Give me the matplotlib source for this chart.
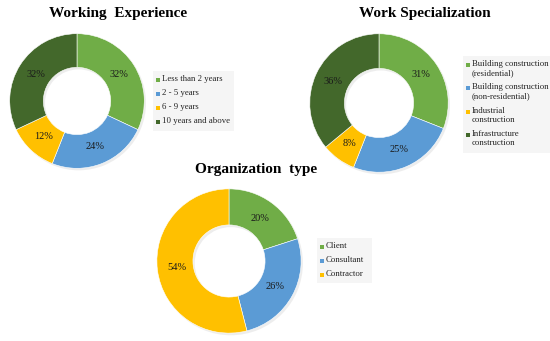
import matplotlib
matplotlib.use("Agg")
import matplotlib.pyplot as plt
from matplotlib.patches import Rectangle

plt.rcParams["font.family"] = ["Liberation Serif", "DejaVu Serif"]

# Data
colors = ["#70AD47", "#5B9BD5", "#FFC000", "#43682B"]

exp_labels = ["Less than 2 years", "2 - 5 years", "6 - 9 years", "10 years and above"]
exp_values = [32, 24, 12, 32]

spec_labels = ["Building construction\n(residential)", "Building construction\n(non-residential)",
               "Industrial\nconstruction", "Infrastructure\nconstruction"]
spec_values = [31, 25, 8, 36]

org_labels = ["Client", "Consultant", "Contractor"]
org_values = [20, 26, 54]

W, H = 550, 341
fig = plt.figure(figsize=(W / 100, H / 100), dpi=100)
fig.patch.set_facecolor("white")


def fx(x):
    return x / W


def fy(y):
    return 1 - y / H


def legend_box(labels, cols, box, mx, tx, y0, pitch):
    # light background + small square markers aligned to the first text line
    x0, y_top, x1, y_bot = box
    fig.patches.append(Rectangle((fx(x0), fy(y_bot)), fx(x1 - x0), (y_bot - y_top) / H,
                                 transform=fig.transFigure, facecolor="#F5F5F5",
                                 edgecolor="none", zorder=0))
    s = 4.0
    for i, (lab, c) in enumerate(zip(labels, cols)):
        y = y0 + i * pitch
        fig.patches.append(Rectangle((fx(mx - s / 2), fy(y + s / 2)), s / W, s / H,
                                     transform=fig.transFigure, facecolor=c,
                                     edgecolor="none", zorder=2))
        fig.text(fx(tx), fy(y - 5), lab, ha="left", va="top", fontsize=6.3,
                 color="#222222", linespacing=1.12)


def donut(cx, cy, r, values, labels, title, title_xy):
    ax = fig.add_axes([(cx - r) / W, (H - cy - r) / H, 2 * r / W, 2 * r / H])
    # faint shadow ring
    ax.pie([1], radius=1.0, colors=["#DCDCDC"], startangle=90, center=(0.025, -0.03),
           wedgeprops=dict(width=0.5, linewidth=0, alpha=0.5))
    ax.pie(values, colors=colors[:len(values)], startangle=90,
           counterclock=False, radius=1.0,
           autopct=lambda p: f"{p:.0f}%", pctdistance=0.73,
           wedgeprops=dict(width=0.5, linewidth=0.4, edgecolor="white"),
           textprops=dict(fontsize=7.5, color="#1a1a1a"))
    ax.set_xlim(-1.04, 1.04)
    ax.set_ylim(-1.04, 1.04)
    ax.set_aspect("equal")
    ax.axis("off")
    fig.text(fx(title_xy[0]), fy(title_xy[1]), title, ha="center", va="center",
             fontsize=11, fontweight="bold")


donut(77, 101, 70, exp_values, exp_labels, "Working  Experience", (118, 13))
legend_box(exp_labels, colors, (153, 71, 234, 131), 157.5, 161.5, 80, 14)

donut(379, 103, 72, spec_values, spec_labels, "Work Specialization", (425, 13))
legend_box(spec_labels, colors, (463, 56, 550, 153), 468, 472, 65, 23.4)

donut(229, 261, 75, org_values, org_labels, "Organization  type", (256, 169))
legend_box(org_labels, colors, (317, 238, 372, 283), 321.5, 325.5, 247, 13.8)

fig.savefig("out.png", dpi=100, facecolor="white")
